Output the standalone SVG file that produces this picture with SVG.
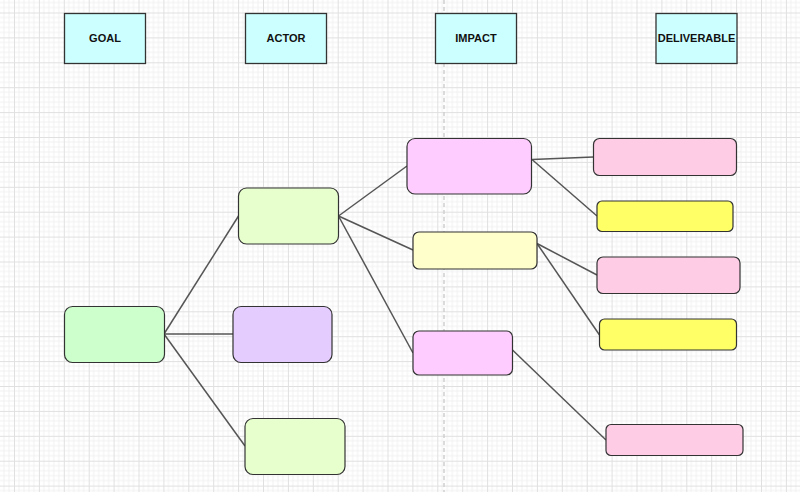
<svg xmlns="http://www.w3.org/2000/svg" width="800" height="492" viewBox="0 0 800 492">
<defs>
<pattern id="grid" patternUnits="userSpaceOnUse" x="14" y="12.5" width="24.9" height="24.9">
<path d="M4.98 0V24.9M9.96 0V24.9M14.94 0V24.9M19.92 0V24.9M0 4.98H24.9M0 9.96H24.9M0 14.94H24.9M0 19.92H24.9" stroke="#f1f1f1" stroke-width="1" fill="none"/>
<path d="M0.5 0V24.9M0 0.5H24.9" stroke="#e0e0e0" stroke-width="1" fill="none"/>
</pattern>
<style>
.hdr rect{fill:#CCFFFF;stroke:#333;stroke-width:1.3}
.hdr text{font-family:"Liberation Sans",Arial,sans-serif;font-size:11px;font-weight:bold;fill:#111;text-anchor:middle}
.n{stroke:#333;stroke-width:1.2}
.edges line{stroke:#555;stroke-width:1.5}
</style>
</defs>
<rect width="800" height="492" fill="#fff"/>
<rect width="800" height="492" fill="url(#grid)"/>
<line x1="444" y1="0" x2="444" y2="492" stroke="#d0d0d0" stroke-width="1.5" stroke-dasharray="4 3"/>

<g class="edges" id="connectors">
<line x1="164" y1="334" x2="238.5" y2="216"/>
<line x1="164" y1="334" x2="233" y2="334"/>
<line x1="164" y1="334" x2="245" y2="446"/>
<line x1="338.5" y1="216" x2="407" y2="166"/>
<line x1="338.5" y1="216" x2="413" y2="250"/>
<line x1="338.5" y1="216" x2="413" y2="353"/>
<line x1="532" y1="159.5" x2="593.5" y2="157"/>
<line x1="532" y1="159.5" x2="597" y2="216"/>
<line x1="537" y1="243.5" x2="597" y2="275"/>
<line x1="537" y1="243.5" x2="599.5" y2="335"/>
<line x1="512.5" y1="350" x2="606" y2="440"/>
</g>

<g id="hdr-goal" class="hdr"><rect x="64.5" y="13.5" width="81" height="50"/><text x="105" y="42">GOAL</text></g>
<g id="hdr-actor" class="hdr"><rect x="245.5" y="13.5" width="81" height="50"/><text x="286" y="42">ACTOR</text></g>
<g id="hdr-impact" class="hdr"><rect x="435.5" y="13.5" width="81" height="50"/><text x="476" y="42">IMPACT</text></g>
<g id="hdr-deliverable" class="hdr"><rect x="656" y="13.5" width="81" height="50"/><text x="696.5" y="42">DELIVERABLE</text></g>

<g id="goal"><rect class="n" x="64.5" y="306.5" width="100" height="56" rx="8" fill="#CCFFCC"/></g>
<g id="actor1"><rect class="n" x="238.5" y="188" width="100" height="56" rx="8" fill="#E6FFCC"/></g>
<g id="actor2"><rect class="n" x="233" y="306.5" width="99" height="56" rx="8" fill="#E5CCFF"/></g>
<g id="actor3"><rect class="n" x="245" y="418.5" width="100" height="56" rx="8" fill="#E6FFCC"/></g>
<g id="impact1"><rect class="n" x="407" y="138.5" width="124.5" height="55.5" rx="8" fill="#FFCCFF"/></g>
<g id="impact2"><rect class="n" x="413" y="232" width="124" height="37" rx="6" fill="#FFFFCC"/></g>
<g id="impact3"><rect class="n" x="413" y="331" width="99.5" height="44" rx="6" fill="#FFCCFF"/></g>
<g id="del1"><rect class="n" x="593.5" y="138.5" width="143" height="37" rx="6" fill="#FFCCE6"/></g>
<g id="del2"><rect class="n" x="597" y="201" width="136" height="30.5" rx="5" fill="#FFFF66"/></g>
<g id="del3"><rect class="n" x="597" y="257" width="143" height="36.5" rx="6" fill="#FFCCE6"/></g>
<g id="del4"><rect class="n" x="599.5" y="319" width="137" height="31" rx="5" fill="#FFFF66"/></g>
<g id="del5"><rect class="n" x="606" y="424.5" width="137" height="31" rx="5" fill="#FFCCE6"/></g>
</svg>
